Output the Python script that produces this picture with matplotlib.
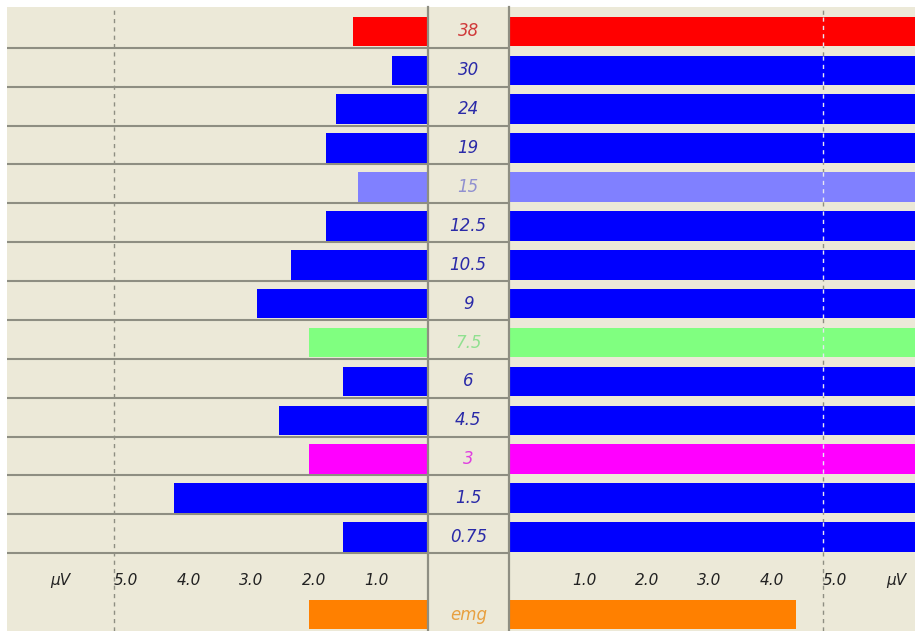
import matplotlib.pyplot as plt
import numpy as np

# frequency bands (top to bottom) and the amplitude on each side, in uV
bands = ["38", "30", "24", "19", "15", "12.5", "10.5", "9", "7.5", "6", "4.5", "3", "1.5", "0.75"]
left_uv = [1.18, 0.57, 1.46, 1.62, 1.11, 1.62, 2.17, 2.71, 1.88, 1.34, 2.36, 1.88, 4.04, 1.34]
right_uv = [6.8] * 14
bar_colors = ["#ff0000", "#0000ff", "#0000ff", "#0000ff", "#8080ff", "#0000ff", "#0000ff",
              "#0000ff", "#80ff80", "#0000ff", "#0000ff", "#ff00ff", "#0000ff", "#0000ff"]
label_colors = ["#d03a3a", "#2a2aa8", "#2a2aa8", "#2a2aa8", "#9090d0", "#2a2aa8", "#2a2aa8",
                "#2a2aa8", "#90e090", "#2a2aa8", "#2a2aa8", "#e040e0", "#2a2aa8", "#2a2aa8"]
emg_left = 1.88
emg_right = 4.57
tick_values = [1, 2, 3, 4, 5]
tick_labels = ["1.0", "2.0", "3.0", "4.0", "5.0"]

BG = "#ece9d8"
GRID = "#8e8e82"
DASH = "#8e8e82"
W, H = 915, 631
PX_PER_UV = 62.8
BAR_OFF, BAR_H = 0.2, 0.76

fig = plt.figure(figsize=(W / 100, H / 100), dpi=100)
fig.patch.set_facecolor("white")


def px_axes(x0, x1, y0=7, y1=H):
    ax = fig.add_axes([x0 / W, 1 - y1 / H, (x1 - x0) / W, (y1 - y0) / H])
    ax.set_facecolor(BG)
    ax.set_ylim(16, -0.05)
    ax.set_xticks([])
    ax.set_yticks([])
    for s in ax.spines.values():
        s.set_visible(False)
    return ax


ax_l = px_axes(7, 427.5)
ax_r = px_axes(509, W)
ax_c = px_axes(427.5, 509)
ax_l.set_xlim((427.5 - 7) / PX_PER_UV, 0)
ax_r.set_xlim(0, (W - 509) / PX_PER_UV)
ax_c.set_xlim(0, 1)

rows = np.arange(len(bands))
ax_l.barh(rows + BAR_OFF, left_uv, height=BAR_H, align="edge", color=bar_colors, zorder=2)
ax_r.barh(rows + BAR_OFF, right_uv, height=BAR_H, align="edge", color=bar_colors, zorder=2)
ax_l.barh(15 + BAR_OFF, emg_left, height=BAR_H, align="edge", color="#ff8000", zorder=2)
ax_r.barh(15 + BAR_OFF, emg_right, height=BAR_H, align="edge", color="#ff8000", zorder=2)

# row separators on the left and centre column only
for i in range(1, len(bands) + 1):
    ax_l.axhline(i, color=GRID, lw=1.5, zorder=1)
    ax_c.axhline(i, color=GRID, lw=1.5, zorder=1)

# 5 uV guides; over the right bars the guide shows as a pale dash
ax_l.axvline(5, color=DASH, lw=1, ls=(0, (3, 3)), zorder=1)
ax_r.axvline(5, color=DASH, lw=1, ls=(0, (3, 3)), zorder=1)
for i in rows:
    ax_r.vlines(5, i + BAR_OFF, i + BAR_OFF + BAR_H, color="#e6e6f2", lw=1,
                ls=(0, (3, 3)), zorder=3)

# centre column borders
for x in (0, 1):
    ax_c.axvline(x, color=GRID, lw=1.6, zorder=3, clip_on=False)

for i, (lab, col) in enumerate(zip(bands, label_colors)):
    ax_c.text(0.5, i + BAR_OFF + BAR_H / 2, lab, ha="center", va="center",
              style="italic", fontsize=12, color=col)
ax_c.text(0.5, 15 + BAR_OFF + BAR_H / 2, "emg", ha="center", va="center",
          style="italic", fontsize=12, color="#e8a040")

for ax in (ax_l, ax_r):
    for v, t in zip(tick_values, tick_labels):
        ax.text(v, 14.7, t, ha="left", va="center", style="italic",
                fontsize=11, color="#222222")
    ax.text(6, 14.7, "μV", ha="left", va="center", style="italic",
            fontsize=11, color="#222222")

fig.savefig("out.png", dpi=100, facecolor=fig.get_facecolor())
